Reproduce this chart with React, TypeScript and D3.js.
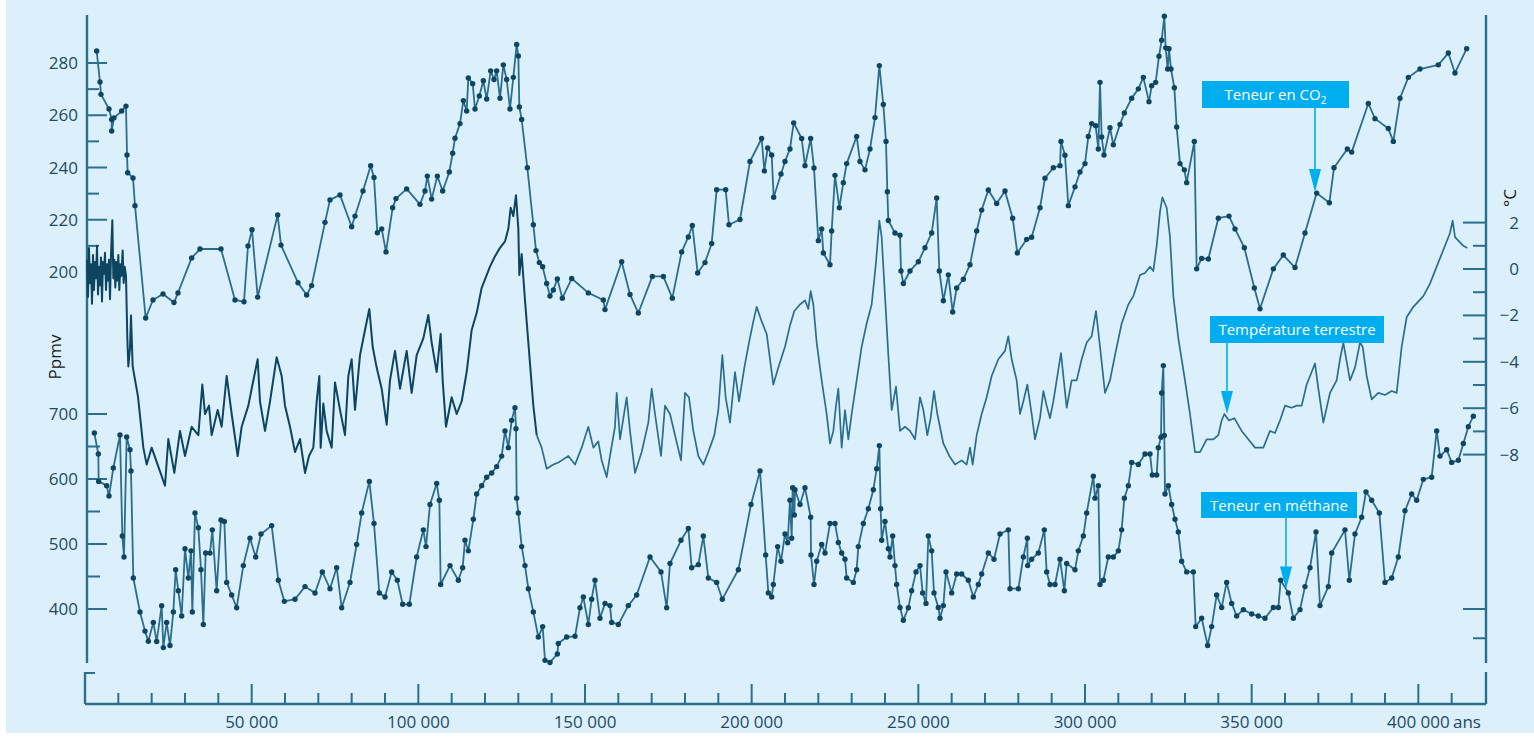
import React from "react";
import * as d3 from "d3";

// ---------- DATA (years BP, values) ----------
const co2Data: [number, number][] = [
  [3500, 284.6], [4500, 272.7], [4800, 268], [7200, 262.4], [8000, 258.4], [8000, 254], [8700, 259],
  [11000, 261.6], [12300, 263.5], [12600, 244.8], [12800, 238], [14400, 236], [15000, 225.4],
  [18200, 182.4], [20400, 189.3], [23400, 191.6], [26700, 188.3], [27900, 192], [32000, 205.4],
  [34500, 208.8], [40800, 208.8], [45000, 189.3], [47700, 188.6], [48900, 210], [50100, 216.2],
  [51800, 190.4], [57800, 221.8], [58800, 210.3], [63900, 195.9], [66500, 191.2], [68000, 194.8],
  [72000, 219], [73500, 227.6], [76500, 229.5], [80000, 217.3], [81000, 221.4], [83400, 231],
  [85700, 240.7], [86700, 236.2], [87700, 215], [89000, 216.5], [90300, 207.7], [92300, 224.6],
  [93300, 228.1], [96500, 231.8], [100500, 225.9], [102000, 231], [102700, 236.7], [104000, 227.9],
  [105700, 236.7], [107300, 231], [109300, 238.3], [110300, 245.5], [111000, 251.2], [112500, 256.8],
  [113500, 265.6], [114500, 261.6], [115000, 274.3], [116300, 272.1], [117000, 262.4], [118300, 267.4],
  [119500, 273.2], [120500, 266.2], [121700, 277], [122700, 273.7], [123500, 277], [124500, 266.5],
  [125500, 279.3], [126500, 273.7], [127500, 262.4], [128500, 274.5], [129500, 287.1], [130000, 282.7],
  [130300, 263.2], [131000, 258.4], [132700, 239.9], [134500, 218.1], [135300, 208.2], [136300, 203.6],
  [137300, 202], [138500, 195.6], [139500, 190.8], [140500, 193.1], [141700, 197.3], [143200, 190],
  [146000, 197.5], [151000, 192], [155500, 189.3], [156000, 185.6], [161000, 203.9], [163500, 191.4],
  [166000, 184.3], [170200, 198.3], [173500, 198.3], [176200, 190], [179000, 207.7], [181000, 213.4],
  [182200, 217.8], [183800, 199.6], [186000, 203.6], [188000, 210.9], [189500, 231.5], [192200, 231.5],
  [193200, 218.1], [196500, 220.1], [199500, 242.3], [203000, 251.1], [203800, 238.7], [204800, 247.5],
  [206000, 244.8], [206600, 228.6], [208800, 237.5], [210000, 242.3], [211500, 247.1], [212600, 257.1],
  [215000, 251.1], [216000, 240.7], [217700, 251.1], [218700, 239.8], [220000, 212], [221000, 216.5],
  [221500, 207.3], [223500, 202.8], [224000, 215.7], [225000, 237], [226300, 224.6], [227500, 234.2],
  [228500, 241.5], [231500, 251.9], [232500, 242.3], [234000, 239.1], [235500, 247.1], [237000, 259.1],
  [238300, 279], [239500, 264.1], [240300, 250], [240700, 230.7], [241000, 219.7], [243000, 214.9],
  [244500, 214.1], [244800, 200.4], [245500, 195.6], [247500, 200.4], [250000, 203.9], [252000, 209.3],
  [254000, 214.9], [255500, 228.3], [256300, 200.4], [257500, 189], [259000, 198.9], [260300, 184.7],
  [261500, 193.9], [263500, 197.2], [265500, 202.8], [267500, 215.7], [269000, 223.7], [271000, 231.4],
  [273500, 226.2], [276000, 231], [278300, 220.6], [279700, 207.3], [282500, 212.5], [284000, 213.3],
  [286500, 224.6], [288000, 235.9], [290500, 239.9], [292500, 240.7], [292800, 250], [294000, 244.7],
  [295000, 225.4], [297000, 232.6], [298500, 238.3], [300000, 241.5], [301000, 251.9], [302000, 256.8],
  [303200, 256], [304000, 247.1], [304500, 272.6], [305000, 251.7], [305700, 244.8], [307500, 255.2],
  [308500, 248.7], [310500, 256.5], [311800, 260.9], [314000, 266.5], [316000, 270.1], [317500, 274.5],
  [319200, 265.2], [320000, 271.3], [321200, 272.6], [322200, 282.6], [323000, 288.7], [323800, 297.9],
  [324200, 285.8], [324800, 277.7], [325200, 285.5], [325800, 277.7], [326800, 270.5], [327500, 255.5],
  [328500, 241.5], [329800, 239.1], [330500, 234.2], [332800, 250], [333500, 201.2], [335000, 205.2],
  [337000, 205], [340000, 220.6], [343200, 221.4], [345000, 216.5], [347800, 209.3], [350800, 193.9],
  [352500, 185.9], [356500, 201.2], [359500, 206.5], [363000, 201.7], [366000, 214.9], [369500, 230.2],
  [373300, 226.5], [374700, 239.9], [378700, 247.1], [380000, 245.9], [385000, 264.5], [387000, 258.7],
  [391000, 254.9], [392500, 250], [394500, 266.5], [397000, 274.5], [400500, 277.7], [406000, 279.3],
  [409000, 283.8], [411000, 276.2], [414500, 285.5],
];

const tempData: [number, number][] = [
  [600, 0.4], [900, -1.2], [1200, 0.9], [1500, -0.6], [1800, 0.2], [2100, -1.5], [2400, 0.6],
  [2700, -0.9], [3000, 0.3], [3300, -0.4], [3600, 1.0], [3900, -1.1], [4200, 0.1], [4500, -0.7],
  [4800, 0.5], [5100, -1.4], [5400, 0.3], [5700, -0.2], [6000, 0.7], [6300, -0.9], [6600, 0.2],
  [6900, -0.5], [7200, 0.4], [7500, -1.3], [7800, 0.6], [8200, 2.1], [8500, -0.4], [8800, 0.4],
  [9100, -0.8], [9400, 0.3], [9700, -0.5], [10000, 0.6], [10300, -0.9], [10600, 0.2], [10900, -0.3],
  [11300, 0.8], [11600, -0.6], [11900, 0.1], [12300, -0.3], [12700, -3.0], [13000, -4.2],
  [13500, -3.4], [13800, -2.0], [14300, -4.2], [15900, -5.5], [17500, -7.7], [18500, -8.43],
  [20000, -7.7], [22000, -8.52], [24000, -9.34], [25000, -7.33], [26800, -8.79], [28500, -6.98],
  [30000, -8.06], [32000, -6.8], [34000, -7.16], [35200, -4.98], [36000, -6.25], [37200, -5.89],
  [38000, -7.16], [39800, -6.08], [41000, -6.8], [42500, -4.61], [44000, -6.25], [45800, -8.06],
  [47000, -6.8], [49000, -5.89], [50000, -5.16], [51800, -3.89], [52500, -5.71], [54000, -6.98],
  [55500, -5.71], [57500, -3.8], [59000, -4.61], [60000, -5.89], [61500, -6.8], [63000, -7.89],
  [64500, -7.33], [66000, -8.79], [67200, -8.06], [68500, -7.7], [69500, -5.71], [70300, -4.61],
  [70700, -7.7], [71500, -5.8], [72500, -6.98], [74000, -7.7], [75000, -4.89], [76500, -6.07],
  [78000, -7.16], [79000, -4.61], [80000, -3.89], [81000, -6.07], [82500, -3.71], [84000, -2.63],
  [85300, -1.72], [86300, -3.35], [87500, -4.25], [89000, -5.16], [90500, -6.71], [91500, -4.8],
  [93000, -3.53], [94500, -5.16], [96500, -3.53], [98000, -5.34], [99500, -3.71], [101500, -2.99],
  [103000, -1.98], [104000, -3.17], [105500, -4.44], [106700, -2.8], [107300, -4.8], [108300, -6.8],
  [110000, -5.53], [111500, -6.25], [113000, -5.71], [114500, -4.44], [116000, -2.63], [117500, -1.9],
  [119000, -0.81], [120000, -0.45], [121500, 0.1], [123000, 0.55], [124500, 0.91], [126000, 1.19],
  [127000, 1.73], [127700, 2.64], [128500, 2.28], [129300, 3.18], [130000, 1.73], [130300, -0.26],
  [131000, 0.65], [132000, -1.35], [133000, -3.17], [134500, -5.89], [135500, -7.16], [137000, -7.7],
  [138500, -8.61], [140500, -8.43], [142000, -8.34], [143000, -8.25], [145000, -8.06], [147000, -8.43],
  [149000, -7.7], [151000, -6.8], [152500, -7.7], [154000, -7.43], [155000, -8.25], [156500, -8.97],
  [157500, -8.06], [159000, -6.8], [159500, -5.34], [160500, -7.34], [162500, -5.53], [163500, -6.98],
  [165000, -8.79], [167000, -7.89], [169000, -6.62], [170000, -5.16], [171000, -6.25], [172800, -8.06],
  [174000, -5.89], [175500, -6.25], [177000, -7.16], [178800, -8.25], [180000, -5.34], [181200, -5.53],
  [182500, -6.98], [184000, -8.06], [185500, -8.43], [187000, -7.89], [188800, -7.16], [190000, -6.08],
  [191200, -3.71], [192200, -5.53], [193500, -6.62], [195000, -4.44], [196200, -5.71], [197800, -4.25],
  [199200, -3.17], [200500, -2.26], [201500, -1.63], [203000, -2.26], [204500, -2.8], [206500, -4.98],
  [208000, -4.25], [210000, -3.35], [211500, -2.44], [212800, -1.81], [214500, -1.53], [216000, -1.35],
  [217000, -1.72], [217700, -0.95], [218500, -1.53], [219500, -3.17], [221000, -4.8], [222500, -6.25],
  [223500, -7.52], [224500, -6.98], [225300, -5.89], [226000, -5.16], [227000, -7.7], [228000, -6.08],
  [229000, -7.34], [230000, -6.25], [231500, -4.8], [233000, -3.35], [234500, -2.35], [236000, -1.53],
  [237300, 0.28], [238300, 2.09], [239000, 1.37], [240000, -1.17], [241000, -3.71], [242000, -6.08],
  [243300, -5.07], [244500, -6.98], [246000, -6.8], [247500, -6.98], [249000, -7.34], [250500, -5.53],
  [251500, -6.08], [252700, -7.16], [253700, -6.43], [254700, -5.26], [255700, -6.25], [257500, -7.52],
  [259300, -8.06], [261000, -8.43], [263000, -8.25], [264500, -8.43], [265500, -7.7], [266300, -8.43],
  [267500, -7.16], [269000, -6.25], [270500, -5.53], [272000, -4.61], [274000, -3.89], [276000, -3.53],
  [277000, -2.9], [278000, -3.89], [279500, -4.8], [280500, -6.25], [281500, -5.71], [282700, -4.98],
  [284000, -6.25], [285000, -7.34], [286500, -6.43], [287500, -5.26], [288500, -5.89], [289500, -6.43],
  [290500, -5.71], [291500, -4.8], [292800, -3.62], [293500, -4.61], [294500, -5.98], [296000, -4.8],
  [297500, -4.8], [299000, -3.89], [300500, -3.17], [302000, -2.9], [303300, -1.81], [304500, -3.35],
  [306000, -5.34], [307500, -4.8], [309000, -3.71], [311000, -2.35], [313000, -1.53], [314500, -1.17],
  [316500, -0.26], [318000, -0.17], [319500, 0.1], [320500, -0.09], [321500, 1.0], [322500, 2.46],
  [323200, 3.09], [324500, 2.64], [325500, 1.37], [326500, -1.17], [328000, -2.99], [330000, -4.8],
  [331500, -6.25], [333000, -7.89], [334500, -7.89], [336500, -7.34], [338500, -7.34], [340000, -7.16],
  [341000, -6.53], [341800, -6.25], [343200, -6.53], [344800, -6.43], [347000, -6.98], [349000, -7.34],
  [351000, -7.7], [353500, -7.7], [354000, -7.52], [355500, -6.98], [357000, -7.07], [358500, -6.53],
  [360000, -5.89], [362000, -5.98], [363500, -5.89], [365000, -5.89], [366500, -4.98], [368000, -4.44],
  [369000, -4.07], [370000, -5.16], [371500, -6.62], [373500, -5.34], [375500, -4.8], [376500, -3.89],
  [377500, -3.17], [379500, -4.8], [381000, -4.25], [382500, -3.17], [383300, -3.35], [384500, -4.61],
  [386000, -5.62], [388000, -5.34], [390000, -5.43], [392000, -5.26], [393500, -5.34], [395000, -3.35],
  [396500, -2.08], [398500, -1.63], [401500, -1.17], [403500, -0.63], [405500, 0.1], [407500, 0.82],
  [409500, 1.55], [410300, 2.09], [411000, 1.37], [413500, 1.0], [414700, 0.91],
];

const ch4Data: [number, number][] = [
  [2800, 670.8], [4000, 638.5], [4100, 596.3], [6500, 589.8], [7200, 573.8], [8500, 617],
  [10500, 667.7], [11200, 512.3], [11700, 480], [12500, 664.6], [13500, 644.9], [13800, 612.3],
  [14500, 447.7], [16500, 395.4], [18000, 366], [19000, 350.3], [20500, 379.4], [21500, 350],
  [23000, 405], [23500, 340.6], [24500, 379.4], [25500, 343.8], [26500, 395.4], [27200, 460.3],
  [28000, 428], [29000, 389.2], [30000, 492.8], [31000, 447.7], [31800, 489.5], [32200, 395.4],
  [33000, 547.7], [34000, 525], [34800, 460.3], [35500, 376.2], [36200, 486.2], [37500, 486],
  [38200, 521.8], [39500, 428], [40800, 536.9], [41800, 534.8], [42500, 440.9], [44000, 421.5],
  [45500, 402], [47500, 466.8], [49500, 508.9], [51200, 480], [52800, 515.4], [56000, 528.3],
  [58000, 444.2], [59800, 411.8], [63000, 415.1], [66000, 434.5], [69000, 424.6], [71200, 457.1],
  [73500, 431.2], [75500, 463.5], [77000, 402], [79500, 440.9], [81500, 499.2], [83000, 547.7],
  [85300, 596.3], [86700, 531.5], [88300, 424.6], [90000, 418.5], [92000, 457.1], [93700, 444.2],
  [95300, 407.2], [97300, 407.2], [99500, 480], [101500, 521.8], [102300, 496], [103500, 560.8],
  [105500, 593.1], [106300, 567.2], [106700, 437.7], [109500, 466.8], [112000, 444.2], [113300, 463.5],
  [114000, 505.7], [115000, 489.5], [116500, 538], [117500, 576.9], [119000, 589.8], [120500, 602.8],
  [122000, 609.2], [123500, 619.1], [125000, 635.2], [126000, 674], [127000, 648.2], [128000, 690.2],
  [129000, 709.7], [129300, 677.2], [129500, 570.5], [130000, 547.7], [131000, 496], [132000, 466.8],
  [133000, 431.2], [134500, 395.5], [136000, 356.9], [137300, 372.9], [138000, 321], [139500, 317.8],
  [141700, 330.8], [142000, 347], [144500, 356.9], [147000, 358], [148500, 402], [149500, 418.5],
  [151000, 376.2], [152000, 415.1], [153000, 444.2], [154500, 385.8], [156000, 408.6], [157500, 405.2],
  [158000, 379.4], [160000, 376.2], [163000, 405.2], [165500, 421.5], [169500, 480], [172800, 457.1],
  [174500, 402], [175500, 470], [178800, 505.7], [181000, 523.8], [182000, 463.5], [184000, 468.2],
  [185500, 512.2], [187000, 447.7], [189500, 440.9], [191200, 415.1], [196000, 460.3], [199800, 560.8],
  [202500, 612.5], [204200, 483], [205000, 424.8], [206000, 418.5], [206500, 437.7], [207800, 496],
  [208800, 473.4], [210000, 515.4], [210800, 502], [211500, 567.2], [212000, 508.9], [212300, 586.6],
  [212800, 544.6], [213000, 583.4], [214500, 560.8], [216000, 586.6], [217700, 541.2], [217800, 483],
  [218700, 437.7], [219500, 473.4], [221000, 499.2], [222000, 486.2], [223500, 531.5], [225000, 531.5],
  [226000, 502.5], [227000, 486.2], [228000, 476.6], [228500, 447.7], [230500, 440.9], [231500, 460.3],
  [232000, 496], [233500, 531.5], [235000, 554.3], [236500, 583.4], [237500, 615.7], [238300, 651.4],
  [238700, 554.3], [239000, 505.7], [240000, 534.8], [241000, 492.8], [241500, 480], [242300, 512.2],
  [243000, 466.8], [243500, 437.7], [244500, 402.2], [245500, 382.6], [247000, 402], [248000, 428],
  [249300, 457.1], [250500, 466.8], [251300, 424.8], [252300, 408.6], [253000, 512.2], [254000, 489.5],
  [254700, 424.8], [256000, 402.2], [256500, 385.8], [257500, 405.2], [258300, 457.1], [260000, 424.8],
  [261500, 453.8], [263000, 453.8], [265000, 444.2], [266500, 418.5], [268000, 437.7], [269000, 453.8],
  [271000, 486.2], [272700, 476.6], [274500, 515.4], [277000, 521.8], [277500, 431.2], [280000, 431.2],
  [281500, 480], [282700, 508.9], [282800, 466.8], [284000, 476.6], [286000, 486.2], [287800, 521.8],
  [288500, 457.1], [289500, 437.7], [291000, 437.7], [292500, 476.6], [293800, 428], [294500, 470],
  [297000, 460.3], [298000, 489.5], [299500, 512.2], [300500, 547.7], [302500, 604.2], [303000, 570.5],
  [304000, 589.8], [304500, 437.7], [305500, 444.2], [307000, 480], [308500, 480], [310000, 489.5],
  [311000, 521.8], [311800, 570.5], [313000, 589.8], [314000, 625.5], [316000, 622.3], [318000, 638.5],
  [319500, 638.5], [320200, 606.2], [321500, 606.2], [322000, 648.2], [322800, 664.3], [323000, 732.3],
  [323500, 774.5], [323800, 667], [324000, 576.9], [325000, 589.8], [326000, 560.8], [327000, 538],
  [328000, 518.5], [329000, 473.4], [330500, 457.1], [332500, 457.1], [333200, 372.9], [335000, 385.8],
  [336800, 343.8], [338000, 372.9], [339500, 421.5], [341000, 402.2], [342500, 440.9], [344000, 408.6],
  [345500, 389.2], [347500, 399], [350000, 392.3], [352000, 389.2], [354000, 385.8], [356500, 402.2],
  [358000, 402.2], [358700, 444.2], [361000, 424.8], [362500, 385.8], [364500, 399], [366000, 434.5],
  [367500, 463.5], [369300, 518.6], [370500, 405.2], [373000, 434.5], [374000, 486.2], [378000, 521.8],
  [379300, 444.2], [381000, 515.4], [383000, 541.2], [384300, 580.2], [386000, 567.2], [388300, 547.7],
  [390000, 440.9], [392000, 447.7], [394000, 480], [396000, 551.1], [398000, 576.9], [399500, 567.2],
  [401500, 599.5], [404000, 602.8], [405500, 674], [406500, 635.2], [408500, 645], [410000, 625.5],
  [412000, 628.8], [413500, 654.6], [415000, 680.5], [416500, 696.6],
];

const xMajorTicks = [50000, 100000, 150000, 200000, 250000, 300000, 350000, 400000];
const xMajorLabels = ["50 000", "100 000", "150 000", "200 000", "250 000", "300 000", "350 000", "400 000"];
const xMinorTicks = [10000, 20000, 30000, 40000, 60000, 70000, 80000, 90000, 110000, 120000, 130000, 140000,
  160000, 170000, 180000, 190000, 210000, 220000, 230000, 240000, 260000, 270000, 280000, 290000,
  310000, 320000, 330000, 340000, 360000, 370000, 380000, 390000, 410000];
const co2MajorTicks = [200, 220, 240, 260, 280];
const co2MinorTicks = [210, 230, 250, 270];
const ch4MajorTicks = [400, 500, 600, 700];
const ch4MinorTicks = [450, 550, 650];
const tempMajorTicks = [2, 0, -2, -4, -6, -8];
const tempMinorTicks = [1, -1, -3, -5, -7];
const ch4RightMajor = [400];
const ch4RightMinor = [355];

// annotation targets [year, value]
const co2Arrow: [number, number] = [369000, 230.6];
const tempArrow: [number, number] = [342600, -6.25];
const ch4Arrow: [number, number] = [360300, 430];

const BG = "#dcf0fb";
const AXIS = "#2b6f8e";
const LINE = "#2a6d8c";
const DOT = "#0e4661";
const DARK = "#0d4560";
const CYAN = "#00aeef";
const TXT = "#1b4a63";
const FONT = "'Open Sans', 'Noto Sans', sans-serif";

export default function App() {
  const x = d3.scaleLinear().domain([0, 420300]).range([85, 1486]);
  const yCO2 = d3.scaleLinear().domain([200, 280]).range([272, 63]);
  const yCH4 = d3.scaleLinear().domain([400, 700]).range([609, 414]);
  const yT = d3.scaleLinear().domain([-8, 2]).range([454.6, 222.6]);

  const lineCO2 = d3.line<[number, number]>().x(d => x(d[0])).y(d => yCO2(d[1]));
  const lineCH4 = d3.line<[number, number]>().x(d => x(d[0])).y(d => yCH4(d[1]));
  const lineT = d3.line<[number, number]>().x(d => x(d[0])).y(d => yT(d[1]));

  const tempEarly = tempData.filter(d => d[0] <= 135500);
  const tempLate = tempData.filter(d => d[0] >= 135500);

  const leftX = 87;
  const rightX = 1486;
  const axisY = 704;

  const arrow = (tx: number, ty: number, top: number) => (
    <g>
      <line x1={tx} x2={tx} y1={top} y2={ty - 20} stroke={CYAN} strokeWidth={1.6} />
      <path d={`M${tx - 6},${ty - 23} L${tx + 6},${ty - 23} L${tx},${ty} Z`} fill={CYAN} />
    </g>
  );

  const co2T = [x(co2Arrow[0]), yCO2(co2Arrow[1])];
  const tT = [x(tempArrow[0]), yT(tempArrow[1])];
  const cT = [x(ch4Arrow[0]), yCH4(ch4Arrow[1])];

  return (
    <svg width={1534} height={743} style={{ position: "absolute", left: 0, top: 0, display: "block" }}
      fontFamily={FONT}>
      <rect x={0} y={0} width={1534} height={743} fill="#ffffff" />
      <rect x={6} y={0} width={1528} height={733} fill={BG} />

      {/* left axis */}
      <line x1={leftX} x2={leftX} y1={15} y2={663} stroke={AXIS} strokeWidth={2.4} />
      {co2MajorTicks.map(v => (
        <g key={"c" + v}>
          <line x1={leftX} x2={leftX + 20} y1={yCO2(v)} y2={yCO2(v)} stroke={AXIS} strokeWidth={2} />
          <text x={78} y={yCO2(v) + 6} textAnchor="end" fontSize={17} fill={TXT}>{v}</text>
        </g>
      ))}
      {co2MinorTicks.map(v => (
        <line key={"cm" + v} x1={leftX} x2={leftX + 12} y1={yCO2(v)} y2={yCO2(v)} stroke={AXIS} strokeWidth={2} />
      ))}
      {ch4MajorTicks.map(v => (
        <g key={"m" + v}>
          <line x1={leftX} x2={leftX + 20} y1={yCH4(v)} y2={yCH4(v)} stroke={AXIS} strokeWidth={2} />
          <text x={78} y={yCH4(v) + 6} textAnchor="end" fontSize={17} fill={TXT}>{v}</text>
        </g>
      ))}
      {ch4MinorTicks.map(v => (
        <line key={"mm" + v} x1={leftX} x2={leftX + 13} y1={yCH4(v)} y2={yCH4(v)} stroke={AXIS} strokeWidth={2} />
      ))}
      <text transform={`translate(61,357) rotate(-90)`} textAnchor="middle" fontSize={17} fill="#1a1a1a">Ppmv</text>

      {/* right axis */}
      <line x1={rightX} x2={rightX} y1={15} y2={663} stroke={AXIS} strokeWidth={2.4} />
      {tempMajorTicks.map(v => (
        <g key={"t" + v}>
          <line x1={rightX - 23} x2={rightX} y1={yT(v)} y2={yT(v)} stroke={AXIS} strokeWidth={2} />
          <text x={1519} y={yT(v) + 6} textAnchor="end" fontSize={17} fill={TXT}>{v < 0 ? "\u2212" + Math.abs(v) : v}</text>
        </g>
      ))}
      {tempMinorTicks.map(v => (
        <line key={"tm" + v} x1={rightX - 13} x2={rightX} y1={yT(v)} y2={yT(v)} stroke={AXIS} strokeWidth={2} />
      ))}
      {ch4RightMajor.map(v => (
        <line key={"rm" + v} x1={rightX - 23} x2={rightX} y1={yCH4(v)} y2={yCH4(v)} stroke={AXIS} strokeWidth={2} />
      ))}
      {ch4RightMinor.map(v => (
        <line key={"rn" + v} x1={rightX - 13} x2={rightX} y1={yCH4(v)} y2={yCH4(v)} stroke={AXIS} strokeWidth={2} />
      ))}
      <text transform={`translate(1516,198) rotate(-90)`} textAnchor="middle" fontSize={17} fill="#1a1a1a">°C</text>

      {/* x axis */}
      <line x1={85} x2={rightX} y1={axisY} y2={axisY} stroke={AXIS} strokeWidth={2.4} />
      <line x1={85} x2={85} y1={672} y2={axisY} stroke={AXIS} strokeWidth={2.4} />
      <line x1={85} x2={95} y1={673} y2={673} stroke={AXIS} strokeWidth={2} />
      <line x1={rightX} x2={rightX} y1={672} y2={axisY} stroke={AXIS} strokeWidth={2.4} />
      {xMinorTicks.map(v => (
        <line key={"xm" + v} x1={x(v)} x2={x(v)} y1={axisY} y2={axisY - 11} stroke={AXIS} strokeWidth={2} />
      ))}
      {xMajorTicks.map((v, i) => (
        <g key={"x" + v}>
          <line x1={x(v)} x2={x(v)} y1={axisY} y2={axisY - 20} stroke={AXIS} strokeWidth={2} />
          <text x={x(v)} y={728} textAnchor="middle" fontSize={17} fill={TXT}>{xMajorLabels[i]}</text>
        </g>
      ))}
      <text x={1467} y={728} textAnchor="middle" fontSize={17} fill={TXT}>ans</text>

      {/* temperature */}
      <path d={lineT(tempEarly) || ""} fill="none" stroke={DARK} strokeWidth={2.0} strokeLinejoin="round" />
      <path d={lineT(tempLate) || ""} fill="none" stroke={LINE} strokeWidth={1.7} strokeLinejoin="round" />

      {/* CO2 */}
      <path d={lineCO2(co2Data) || ""} fill="none" stroke={LINE} strokeWidth={1.8} strokeLinejoin="round" />
      {co2Data.map((d, i) => (
        <circle key={"cd" + i} cx={x(d[0])} cy={yCO2(d[1])} r={2.7} fill={DOT} />
      ))}

      {/* CH4 */}
      <path d={lineCH4(ch4Data) || ""} fill="none" stroke={LINE} strokeWidth={1.8} strokeLinejoin="round" />
      {ch4Data.map((d, i) => (
        <circle key={"md" + i} cx={x(d[0])} cy={yCH4(d[1])} r={2.7} fill={DOT} />
      ))}

      {/* annotations */}
      <rect x={1202} y={81} width={147} height={27} fill={CYAN} />
      <text x={1275.5} y={100} textAnchor="middle" fontSize={15} fill="#ffffff">
        Teneur en CO<tspan fontSize={10} dy={4}>2</tspan>
      </text>
      {arrow(co2T[0], co2T[1], 108)}

      <rect x={1210} y={316} width={174} height={27} fill={CYAN} />
      <text x={1297} y={335} textAnchor="middle" fontSize={15} fill="#ffffff">Température terrestre</text>
      {arrow(tT[0], tT[1], 343)}

      <rect x={1201} y={492} width={156} height={26} fill={CYAN} />
      <text x={1279} y={510.5} textAnchor="middle" fontSize={15} fill="#ffffff">Teneur en méthane</text>
      {arrow(cT[0], cT[1], 518)}
    </svg>
  );
}
